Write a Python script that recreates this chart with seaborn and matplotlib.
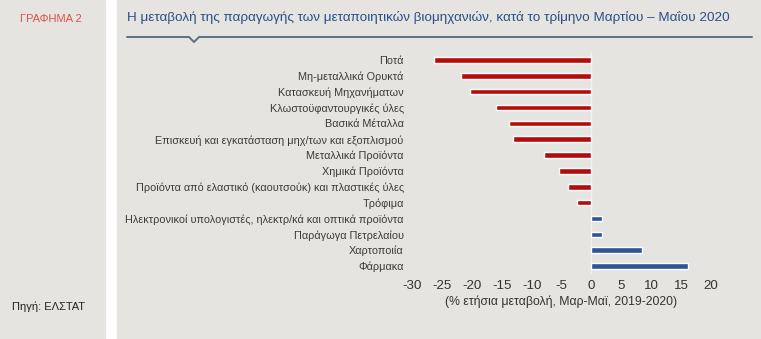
import matplotlib
matplotlib.use("Agg")
import matplotlib.pyplot as plt
import seaborn as sns
import pandas as pd
from matplotlib.patches import Rectangle
from matplotlib.lines import Line2D

categories = [
    "Ποτά",
    "Μη-μεταλλικά Ορυκτά",
    "Κατασκευή Μηχανήματων",
    "Κλωστοϋφαντουργικές ύλες",
    "Βασικά Μέταλλα",
    "Επισκευή και εγκατάσταση μηχ/των και εξοπλισμού",
    "Μεταλλικά Προϊόντα",
    "Χημικά Προϊόντα",
    "Προϊόντα από ελαστικό (καουτσούκ) και πλαστικές ύλες",
    "Τρόφιμα",
    "Ηλεκτρονικοί υπολογιστές, ηλεκτρ/κά και οπτικά προϊόντα",
    "Παράγωγα Πετρελαίου",
    "Χαρτοποιία",
    "Φάρμακα",
]
values = [-26.3, -21.8, -20.3, -16.0, -13.8, -13.1, -7.9, -5.5, -3.9, -2.4, 1.7, 1.8, 8.4, 16.2]
xticks = [-30, -25, -20, -15, -10, -5, 0, 5, 10, 15, 20]

title = "Η μεταβολή της παραγωγής των μεταποιητικών βιομηχανιών, κατά το τρίμηνο Μαρτίου – Μαΐου 2020"
xlabel = "(% ετήσια μεταβολή, Μαρ-Μαϊ, 2019-2020)"

df = pd.DataFrame({"cat": categories, "val": values})
df["sign"] = ["neg" if v < 0 else "pos" for v in values]

sns.set_theme(style="white")
plt.rcParams["font.family"] = ["Liberation Sans", "DejaVu Sans"]

W, H = 761, 339
fig = plt.figure(figsize=(W / 100, H / 100), dpi=100)
fig.patch.set_facecolor("white")
bg = "#E5E4E0"
fig.patches.append(Rectangle((0, 0), 105 / W, 1, transform=fig.transFigure, color=bg, zorder=-10))
fig.patches.append(Rectangle((117 / W, 0), (W - 117) / W, 1, transform=fig.transFigure, color=bg, zorder=-10))

ax = fig.add_axes([412 / W, 1 - 274 / H, (711 - 412) / W, (274 - 52) / H])
ax.set_facecolor("none")
sns.barplot(data=df, y="cat", x="val", hue="sign", palette={"neg": "#B70A0A", "pos": "#2E5597"},
            orient="h", width=0.36, dodge=False, legend=False, ax=ax, saturation=1)
ax.axvline(0, color="#F2F1EE", lw=1.0, zorder=0)
ax.set_xlim(-30, 20)
ax.set_ylim(13.5, -0.5)
ax.set_xticks(xticks)
ax.set_xticklabels([str(t) for t in xticks], fontsize=9.6, color="#333333")
ax.set_yticks(range(len(categories)))
ax.set_yticklabels(categories, fontsize=7.85, color="#3A3A3A")
ax.tick_params(axis="both", length=0, pad=4)
ax.tick_params(axis="y", pad=6)
ax.set_xlabel(xlabel, fontsize=8.8, color="#333333", labelpad=3)
ax.set_ylabel("")
for s in ax.spines.values():
    s.set_visible(False)

# Title & decorations
fig.text(127 / W, 1 - 18 / H, title, fontsize=9.7, color="#2B4F86", va="center", ha="left")
fig.text(20 / W, 1 - 19 / H, "ΓΡΑΦΗΜΑ 2", fontsize=8, color="#E0514A", va="center", ha="left")
fig.text(12 / W, 1 - 307 / H, "Πηγή: ΕΛΣΤΑΤ", fontsize=8, color="#222222", va="center", ha="left")

lx = [127, 189, 194, 199, 752]
ly = [37, 37, 42, 37, 37]
fig.lines.append(Line2D([x / W for x in lx], [1 - y / H for y in ly], transform=fig.transFigure,
                        color="#5E6F82", lw=1.4))

fig.savefig("out.png", dpi=100, facecolor=fig.get_facecolor())
